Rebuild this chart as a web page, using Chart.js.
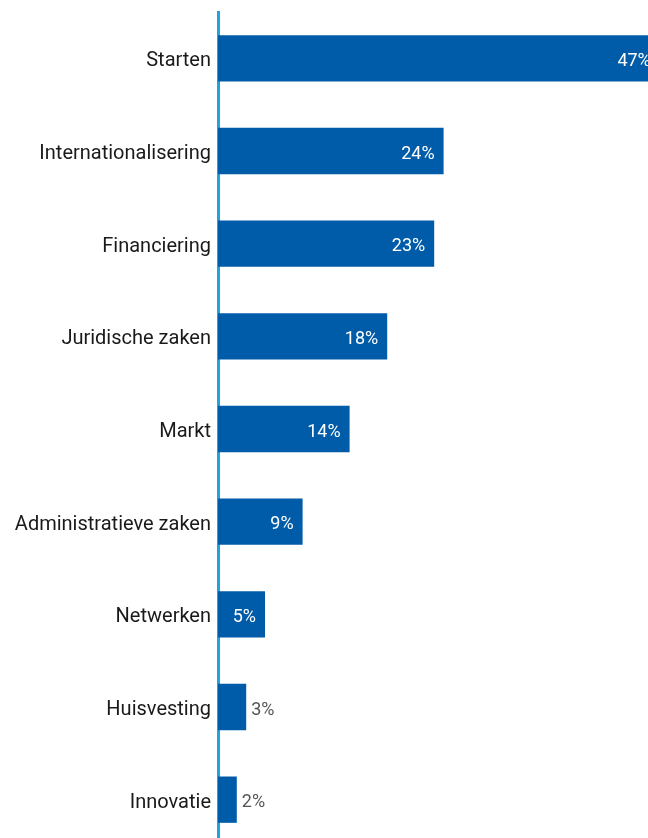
<!DOCTYPE html>
<html>
<head>
<meta charset="utf-8">
<script src="https://cdn.jsdelivr.net/npm/chart.js@4"></script>
<style>
  html, body { margin: 0; padding: 0; background: #ffffff; overflow: hidden; }
  #wrap { width: 688px; height: 846px; }
</style>
</head>
<body>
<div id="wrap"><canvas id="chart" width="688" height="846"></canvas></div>
<script>
// Onderwerpen en aandeel (%)
const categories = [
  'Starten',
  'Internationalisering',
  'Financiering',
  'Juridische zaken',
  'Markt',
  'Administratieve zaken',
  'Netwerken',
  'Huisvesting',
  'Innovatie'
];
const percentages = [47, 24, 23, 18, 14, 9, 5, 3, 2];

const barColor = '#005ca9';
const axisColor = '#1ea3de';
const fontFamily = 'Roboto, "Open Sans", sans-serif';

// Percentage labels: inside the bar end when it fits, otherwise just after it
const valueLabels = {
  id: 'valueLabels',
  afterDatasetsDraw(chart) {
    const ctx = chart.ctx;
    const meta = chart.getDatasetMeta(0);
    const values = chart.data.datasets[0].data;
    ctx.save();
    ctx.font = '18px ' + fontFamily;
    ctx.textBaseline = 'middle';
    meta.data.forEach((bar, i) => {
      const text = values[i] + '%';
      const tw = ctx.measureText(text).width;
      const width = bar.x - bar.base;
      if (width >= tw + 14) {
        ctx.fillStyle = '#ffffff';
        ctx.textAlign = 'right';
        ctx.fillText(text, bar.x - 9, bar.y + 3);
      } else {
        ctx.fillStyle = '#555555';
        ctx.textAlign = 'left';
        ctx.fillText(text, bar.x + 5, bar.y + 3);
      }
    });
    ctx.restore();
  }
};

new Chart(document.getElementById('chart'), {
  type: 'bar',
  data: {
    labels: categories,
    datasets: [{
      data: percentages,
      backgroundColor: barColor,
      borderWidth: 0,
      barPercentage: 0.5,
      categoryPercentage: 1.0
    }]
  },
  options: {
    indexAxis: 'y',
    responsive: false,
    animation: false,
    layout: { padding: { top: 12, bottom: 0, left: 0, right: 0 } },
    plugins: {
      legend: { display: false },
      tooltip: { enabled: false }
    },
    scales: {
      x: {
        display: false,
        min: 0,
        max: 50
      },
      y: {
        afterFit(scale) {
          scale.width = 218;
          scale.paddingTop = 0;
          scale.paddingBottom = 0;
        },
        grid: { display: false, drawTicks: false },
        border: { display: true, color: axisColor, width: 3 },
        ticks: {
          color: '#1a1a1a',
          padding: 7,
          labelOffset: 3,
          font: { family: fontFamily, size: 20 }
        }
      }
    }
  },
  plugins: [valueLabels]
});
</script>
</body>
</html>
